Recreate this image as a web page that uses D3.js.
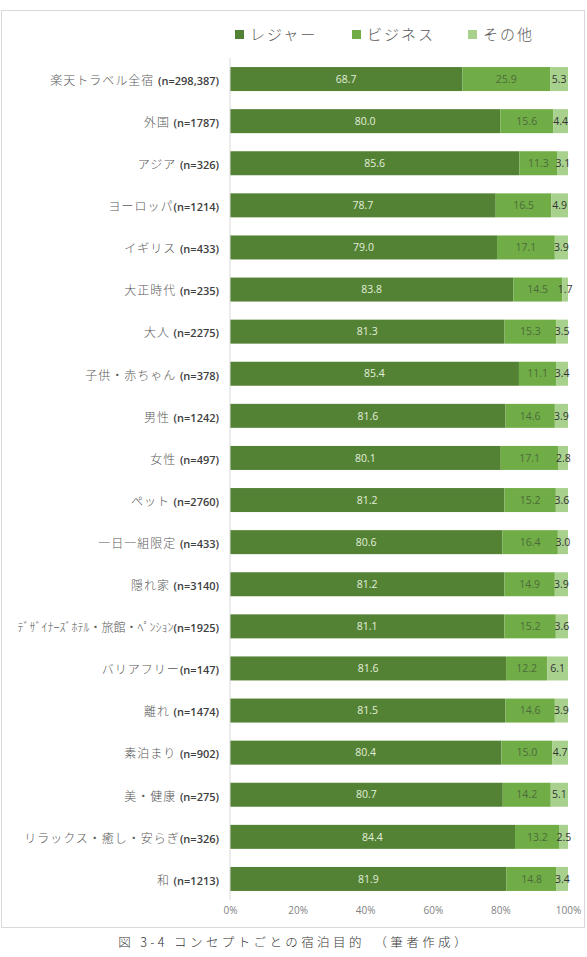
<!DOCTYPE html>
<html>
<head>
<meta charset="utf-8">
<script src="https://cdn.jsdelivr.net/npm/d3@7"></script>
<style>
  body { margin: 0; background: #fff; }
  svg { display: block; }
</style>
</head>
<body>
<div id="chart"></div>
<script>
// categories (label + sample size)
var names = ['楽天トラベル全宿', '外国', 'アジア', 'ヨーロッパ', 'イギリス', '大正時代', '大人',
  '子供・赤ちゃん', '男性', '女性', 'ペット', '一日一組限定', '隠れ家',
  'ﾃﾞｻﾞｲﾅｰｽﾞﾎﾃﾙ・旅館・ﾍﾟﾝｼｮﾝ', 'バリアフリー', '離れ', '素泊まり', '美・健康',
  'リラックス・癒し・安らぎ', '和'];
var counts = ['(n=298,387)', '(n=1787)', '(n=326)', '(n=1214)', '(n=433)', '(n=235)', '(n=2275)',
  '(n=378)', '(n=1242)', '(n=497)', '(n=2760)', '(n=433)', '(n=3140)',
  '(n=1925)', '(n=147)', '(n=1474)', '(n=902)', '(n=275)', '(n=326)', '(n=1213)'];
// no space before (n=..) on these
var tight = [3, 13, 14, 18];

var leisure  = [68.7, 80.0, 85.6, 78.7, 79.0, 83.8, 81.3, 85.4, 81.6, 80.1, 81.2, 80.6, 81.2, 81.1, 81.6, 81.5, 80.4, 80.7, 84.4, 81.9];
var business = [25.9, 15.6, 11.3, 16.5, 17.1, 14.5, 15.3, 11.1, 14.6, 17.1, 15.2, 16.4, 14.9, 15.2, 12.2, 14.6, 15.0, 14.2, 13.2, 14.8];
var other    = [5.3, 4.4, 3.1, 4.9, 3.9, 1.7, 3.5, 3.4, 3.9, 2.8, 3.6, 3.0, 3.9, 3.6, 6.1, 3.9, 4.7, 5.1, 2.5, 3.4];

var seriesNames = ['レジャー', 'ビジネス', 'その他'];
var ticks = [0, 20, 40, 60, 80, 100];

var colors = ['#548235', '#70ad47', '#a9d18e'];
var labelColors = ['#e2efda', '#4d6b3a', '#333333'];

var W = 587, H = 957;
var svg = d3.select('#chart').append('svg')
  .attr('width', W)
  .attr('height', H);

// chart frame
svg.append('rect')
  .attr('x', 1.5).attr('y', 10.5)
  .attr('width', 583).attr('height', 917)
  .attr('fill', '#fff')
  .attr('stroke', '#d9d9d9');

var x = d3.scaleLinear().domain([0, 100]).range([230, 568]);
var y = d3.scaleBand()
  .domain(d3.range(names.length))
  .range([58, 900])
  .paddingInner(0.43)
  .paddingOuter(0.215);

var rows = names.map(function (n, i) {
  var vals = [leisure[i], business[i], other[i]];
  var total = d3.sum(vals);
  var cum = 0;
  return vals.map(function (v, k) {
    var seg = { i: i, k: k, v: v, x0: cum / total * 100 };
    cum += v;
    seg.x1 = cum / total * 100;
    return seg;
  });
});
var segs = d3.merge(rows);

// x axis labels
var xAxis = d3.axisBottom(x)
  .tickValues(ticks)
  .tickFormat(function (d) { return d + '%'; })
  .tickSize(0)
  .tickPadding(0);

var gx = svg.append('g')
  .attr('transform', 'translate(0, 907)')
  .call(xAxis);
gx.select('.domain').remove();
gx.selectAll('text')
  .attr('fill', '#7f7f7f')
  .style('font-family', '"Open Sans", sans-serif')
  .style('font-size', '10px');

// bars
svg.selectAll('.seg')
  .data(segs)
  .enter()
  .append('rect')
    .attr('class', 'seg')
    .attr('x', function (d) { return x(d.x0); })
    .attr('y', function (d) { return y(d.i); })
    .attr('width', function (d) { return x(d.x1) - x(d.x0); })
    .attr('height', y.bandwidth())
    .attr('fill', function (d) { return colors[d.k]; });

svg.selectAll('.val')
  .data(segs)
  .enter()
  .append('text')
    .attr('class', 'val')
    .attr('x', function (d) { return (x(d.x0) + x(d.x1)) / 2; })
    .attr('y', function (d) { return y(d.i) + y.bandwidth() / 2; })
    .attr('dy', '0.35em')
    .attr('text-anchor', 'middle')
    .attr('fill', function (d) { return labelColors[d.k]; })
    .style('font-family', '"Open Sans", sans-serif')
    .style('font-size', '10.5px')
    .text(function (d) { return d.v.toFixed(1); });

// vertical axis line
svg.append('line')
  .attr('x1', x(0)).attr('x2', x(0))
  .attr('y1', 58).attr('y2', 900)
  .attr('stroke', '#d9d9d9');

// category labels
var cat = svg.selectAll('.cat')
  .data(names)
  .enter()
  .append('text')
    .attr('class', 'cat')
    .attr('x', 219)
    .attr('y', function (d, i) { return y(i) + y.bandwidth() / 2; })
    .attr('dy', '0.36em')
    .attr('text-anchor', 'end');

cat.append('tspan')
  .attr('fill', '#595959')
  .style('font-family', '"Noto Sans CJK JP", sans-serif')
  .style('font-size', '12px')
  .style('font-weight', 300)
  .style('letter-spacing', function (d, i) { return i === 13 ? '0px' : '1px'; })
  .text(function (d, i) { return tight.indexOf(i) >= 0 ? d : d + ' '; });

cat.append('tspan')
  .attr('fill', '#404040')
  .style('font-family', '"Open Sans", sans-serif')
  .style('font-size', '11px')
  .style('font-weight', 600)
  .text(function (d, i) { return counts[i]; });

// legend
var legendX = [235, 352, 468];
var legend = svg.selectAll('.legend')
  .data(seriesNames)
  .enter()
  .append('g')
    .attr('class', 'legend')
    .attr('transform', function (d, i) { return 'translate(' + legendX[i] + ', 35)'; });

legend.append('rect')
  .attr('x', 0).attr('y', -5)
  .attr('width', 9).attr('height', 9)
  .attr('fill', function (d, i) { return colors[i]; });

legend.append('text')
  .attr('x', 15)
  .attr('dy', '0.35em')
  .attr('fill', '#595959')
  .style('font-family', '"Noto Sans CJK JP", sans-serif')
  .style('font-size', '15px')
  .style('font-weight', 300)
  .style('letter-spacing', '2px')
  .text(function (d) { return d; });

// caption
svg.append('text')
  .attr('x', 294)
  .attr('y', 943)
  .attr('dy', '0.35em')
  .attr('text-anchor', 'middle')
  .attr('fill', '#333')
  .style('font-family', '"Noto Sans CJK JP", sans-serif')
  .style('font-size', '12.5px')
  .style('font-weight', 300)
  .style('letter-spacing', '3.4px')
  .text('図 3-4 コンセプトごとの宿泊目的　（筆者作成）');
</script>
</body>
</html>
